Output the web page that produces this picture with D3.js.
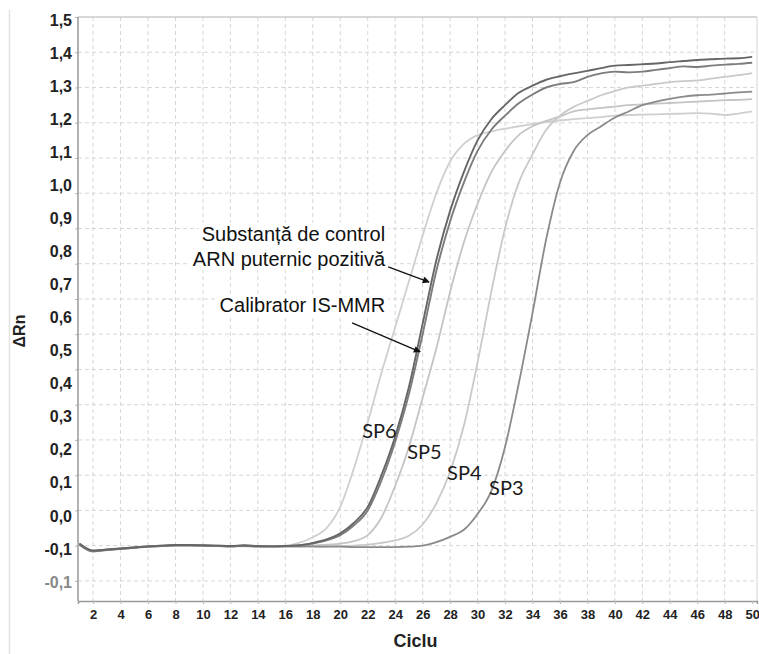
<!DOCTYPE html>
<html>
<head>
<meta charset="utf-8">
<script src="https://cdn.jsdelivr.net/npm/d3@7"></script>
<style>
body { margin: 0; background: #fff; }
</style>
</head>
<body>
<div id="chart"></div>
<script>
///////// DATA /////////

var cycles = d3.range(1, 51);

var sp6 = [0.004, -0.016, -0.012, -0.009, -0.006, -0.003, -0.001, 0.001, 0.0, 0.0,
           -0.001, -0.002, -0.001, -0.002, -0.002, 0.0, 0.008, 0.024, 0.05, 0.11,
           0.22, 0.35, 0.49, 0.62, 0.75, 0.88, 1.0, 1.09, 1.14, 1.165,
           1.175, 1.183, 1.19, 1.196, 1.202, 1.207, 1.21, 1.213, 1.216, 1.22,
           1.222, 1.223, 1.224, 1.225, 1.226, 1.227, 1.226, 1.222, 1.226, 1.232];

var control = [0.006, -0.014, -0.011, -0.008, -0.005, -0.002, 0.0, 0.002, 0.002, 0.001,
               0.0, -0.001, 0.001, -0.001, -0.002, -0.001, 0.001, 0.008, 0.018, 0.035,
               0.065, 0.11, 0.2, 0.31, 0.45, 0.63, 0.81, 0.95, 1.06, 1.15,
               1.21, 1.25, 1.285, 1.305, 1.322, 1.332, 1.34, 1.347, 1.355, 1.362,
               1.364, 1.366, 1.368, 1.372, 1.375, 1.378, 1.38, 1.382, 1.383, 1.387];

var calibrator = [0.003, -0.016, -0.012, -0.009, -0.006, -0.003, -0.001, 0.001, 0.001, 0.0,
                  0.0, -0.002, 0.0, -0.002, -0.002, -0.001, 0.0, 0.006, 0.015, 0.03,
                  0.058, 0.1, 0.185, 0.295, 0.43, 0.6, 0.78, 0.92, 1.03, 1.12,
                  1.18, 1.22, 1.255, 1.28, 1.3, 1.31, 1.315, 1.33, 1.34, 1.345,
                  1.343, 1.345, 1.35, 1.355, 1.36, 1.358, 1.362, 1.365, 1.367, 1.37];

var sp5 = [0.005, -0.015, -0.011, -0.009, -0.005, -0.003, 0.0, 0.001, 0.001, 0.001,
           -0.001, -0.002, -0.001, -0.002, -0.003, -0.002, -0.002, 0.0, 0.003, 0.006,
           0.013, 0.03, 0.08, 0.17, 0.28, 0.42, 0.56, 0.72, 0.86, 0.97,
           1.06, 1.12, 1.165, 1.19, 1.205, 1.218, 1.232, 1.238, 1.242, 1.246,
           1.25, 1.252, 1.254, 1.256, 1.258, 1.26, 1.262, 1.264, 1.265, 1.267];

var sp4 = [0.004, -0.017, -0.013, -0.01, -0.006, -0.003, -0.001, 0.0, 0.0, 0.0,
           -0.001, -0.002, -0.002, -0.003, -0.003, -0.003, -0.003, -0.003, -0.002, -0.001,
           0.0, 0.003, 0.008, 0.015, 0.028, 0.06, 0.12, 0.21, 0.34, 0.52,
           0.72, 0.9, 1.03, 1.11, 1.18, 1.22, 1.245, 1.262, 1.278, 1.29,
           1.3, 1.305, 1.31, 1.315, 1.318, 1.32, 1.325, 1.33, 1.335, 1.341];

var sp3 = [0.005, -0.014, -0.011, -0.008, -0.005, -0.002, 0.0, 0.001, 0.001, 0.0,
           -0.001, -0.002, -0.001, -0.002, -0.002, -0.002, -0.002, -0.002, -0.003, -0.003,
           -0.004, -0.004, -0.004, -0.004, -0.003, 0.0, 0.01, 0.025, 0.045, 0.09,
           0.155, 0.28, 0.46, 0.66, 0.87, 1.03, 1.12, 1.165, 1.19, 1.215,
           1.232, 1.25, 1.26, 1.268, 1.274, 1.278, 1.28, 1.283, 1.286, 1.288];

// drawing order: light curves first, dark pair on top
var seriesNames = ["SP6", "SP5", "SP4", "SP3", "Calibrator IS-MMR", "Substanta de control"];
var seriesValues = [sp6, sp5, sp4, sp3, calibrator, control];

var xTicks = d3.range(2, 51, 2);
var yGrid = d3.range(-1, 15).map(function(k) { return k / 10; });
var yTickLabels = ["1,5", "1,4", "1,3", "1,2", "1,1", "1,0", "0,9", "0,8", "0,7",
                   "0,6", "0,5", "0,4", "0,3", "0,2", "0,1", "0,0", "-0,1", "-0,1"];

// curve labels, placed in data units (cycle, value)
var spLabels = ["SP6", "SP5", "SP4", "SP3"];
var spLabelCycle = [21.6, 24.87, 27.78, 30.84];
var spLabelValue = [0.306, 0.246, 0.187, 0.144];

var noteLines = ["Substanță de control", "ARN puternic pozitivă", "Calibrator IS-MMR"];
var noteCycle = 23.27;
var noteValue = [0.865, 0.794, 0.663];
var arrowFrom = [[23.49, 0.791], [20.86, 0.632]];
var arrowTo = [[26.47, 0.748], [25.82, 0.55]];

///////// STYLES /////////

var seriesColors = ["#cfcfcf", "#c4c4c4", "#c9c9c9", "#8a8a8a", "#7c7c7c", "#666666"];
var seriesWidths = [1.8, 1.8, 1.8, 1.8, 1.9, 1.9];

var w = 759;
var h = 654;
var plotL = 78, plotR = 757, plotT = 17, plotB = 601;

///////// SCALES /////////

var x = d3.scaleLinear()
    .domain([0.9, 50.35])
    .range([plotL, plotR]);

var y = d3.scaleLinear()
    .domain([-0.157, 1.5])
    .range([plotB, plotT]);

var yLab = d3.scalePoint()
    .domain(d3.range(yTickLabels.length))
    .range([20, 582]);

var svg = d3.select("#chart")
    .append("svg")
    .attr("width", w)
    .attr("height", h);

// page edge line at far left
svg.append("line")
    .attr("x1", 9.5).attr("x2", 9.5)
    .attr("y1", 10).attr("y2", h)
    .attr("stroke", "#e2e2e2")
    .attr("stroke-width", 1.5);

///////// GRID /////////

svg.append("g")
    .selectAll("line")
    .data(yGrid)
    .enter()
    .append("line")
    .attr("x1", plotL)
    .attr("x2", plotR)
    .attr("y1", function(d) { return y(d); })
    .attr("y2", function(d) { return y(d); })
    .attr("stroke", "#d6d6d6")
    .attr("stroke-dasharray", "4,3");

svg.append("g")
    .selectAll("line")
    .data(xTicks.filter(function(d) { return d < 50; }))
    .enter()
    .append("line")
    .attr("x1", function(d) { return x(d); })
    .attr("x2", function(d) { return x(d); })
    .attr("y1", plotT)
    .attr("y2", plotB)
    .attr("stroke", "#d6d6d6")
    .attr("stroke-dasharray", "4,3");

///////// ANNOTATION TEXT (white boxes hide the grid) /////////

var notes = svg.append("g");
noteLines.forEach(function(t, i) {
    var txt = notes.append("text")
        .attr("x", x(noteCycle))
        .attr("y", y(noteValue[i]))
        .attr("text-anchor", "end")
        .attr("font-family", "'Liberation Sans', Arial, sans-serif")
        .attr("font-size", "20px")
        .attr("fill", "#111")
        .text(t);
    var bb = txt.node().getBBox();
    notes.insert("rect", "text")
        .attr("x", bb.x - 3)
        .attr("y", bb.y)
        .attr("width", bb.width + 6)
        .attr("height", bb.height)
        .attr("fill", "#fff");
});

///////// CURVES /////////

var line = d3.line()
    .x(function(d, i) { return x(cycles[i]); })
    .y(function(d) { return y(d); })
    .curve(d3.curveMonotoneX);

svg.append("g")
    .selectAll("path")
    .data(seriesValues)
    .enter()
    .append("path")
    .attr("d", function(d) { return line(d); })
    .attr("fill", "none")
    .attr("stroke", function(d, i) { return seriesColors[i]; })
    .attr("stroke-width", function(d, i) { return seriesWidths[i]; })
    .attr("stroke-linejoin", "round");

///////// FRAME /////////

svg.append("line")
    .attr("x1", plotL).attr("x2", plotR)
    .attr("y1", plotT).attr("y2", plotT)
    .attr("stroke", "#cacaca").attr("stroke-width", 1.5);

svg.append("line")
    .attr("x1", plotR).attr("x2", plotR)
    .attr("y1", plotT).attr("y2", plotB)
    .attr("stroke", "#d4d4d4").attr("stroke-width", 1);

///////// AXES /////////

var xaxis = d3.axisBottom(x)
    .tickValues(xTicks)
    .tickSize(3)
    .tickPadding(6);

var gx = svg.append("g")
    .attr("transform", "translate(0," + plotB + ")")
    .call(xaxis);
gx.select(".domain").attr("stroke", "#999").attr("stroke-width", 1.5);
gx.selectAll(".tick line").attr("stroke", "#bbb");
gx.selectAll("text")
    .attr("font-family", "'Liberation Sans', Arial, sans-serif")
    .attr("font-weight", "bold")
    .attr("font-size", "13px")
    .attr("fill", "#222");

var yaxis = d3.axisLeft(y)
    .tickValues(yGrid.concat([1.5]))
    .tickSize(3)
    .tickFormat("");

var gy = svg.append("g")
    .attr("transform", "translate(" + plotL + ",0)")
    .call(yaxis);
gy.select(".domain").remove();
gy.selectAll(".tick line").attr("stroke", "#bbb");

svg.append("line")
    .attr("x1", plotL).attr("x2", plotL)
    .attr("y1", plotT).attr("y2", plotB)
    .attr("stroke", "#999").attr("stroke-width", 1.5);

var ylabAxis = d3.axisLeft(yLab)
    .tickSize(0)
    .tickPadding(6)
    .tickFormat(function(i) { return yTickLabels[i]; });

var gyl = svg.append("g")
    .attr("transform", "translate(" + plotL + ",0)")
    .call(ylabAxis);
gyl.select(".domain").remove();
gyl.selectAll("text")
    .attr("font-family", "'Liberation Sans', Arial, sans-serif")
    .attr("font-weight", "bold")
    .attr("font-size", "16px")
    .attr("fill", function(i) { return i === yTickLabels.length - 1 ? "#888" : "#222"; });

///////// AXIS TITLES /////////

svg.append("text")
    .attr("x", (plotL + plotR) / 2 - 2)
    .attr("y", 647)
    .attr("text-anchor", "middle")
    .attr("font-family", "'Liberation Sans', Arial, sans-serif")
    .attr("font-weight", "bold")
    .attr("font-size", "18px")
    .attr("fill", "#222")
    .text("Ciclu");

svg.append("text")
    .attr("transform", "translate(25," + 331 + ") rotate(-90)")
    .attr("text-anchor", "middle")
    .attr("font-family", "'Liberation Sans', Arial, sans-serif")
    .attr("font-weight", "bold")
    .attr("font-size", "16px")
    .attr("fill", "#222")
    .text("ΔRn");

///////// CURVE LABELS AND ARROWS /////////

svg.append("g")
    .selectAll("text")
    .data(spLabels)
    .enter()
    .append("text")
    .attr("x", function(d, i) { return x(spLabelCycle[i]); })
    .attr("y", function(d, i) { return y(spLabelValue[i]); })
    .attr("font-family", "Lato, 'Noto Sans', sans-serif")
    .attr("font-size", "20px")
    .attr("fill", "#1a1a1a")
    .text(function(d) { return d; });

var defs = svg.append("defs");
defs.append("marker")
    .attr("id", "arrow")
    .attr("viewBox", "0 0 10 10")
    .attr("refX", 9)
    .attr("refY", 5)
    .attr("markerWidth", 9)
    .attr("markerHeight", 7)
    .attr("markerUnits", "userSpaceOnUse")
    .attr("orient", "auto")
    .append("path")
    .attr("d", "M0,0 L10,5 L0,10 z")
    .attr("fill", "#111");

svg.append("g")
    .selectAll("line")
    .data(arrowFrom)
    .enter()
    .append("line")
    .attr("x1", function(d) { return x(d[0]); })
    .attr("y1", function(d) { return y(d[1]); })
    .attr("x2", function(d, i) { return x(arrowTo[i][0]); })
    .attr("y2", function(d, i) { return y(arrowTo[i][1]); })
    .attr("stroke", "#111")
    .attr("stroke-width", 1.3)
    .attr("marker-end", "url(#arrow)");
</script>
</body>
</html>
